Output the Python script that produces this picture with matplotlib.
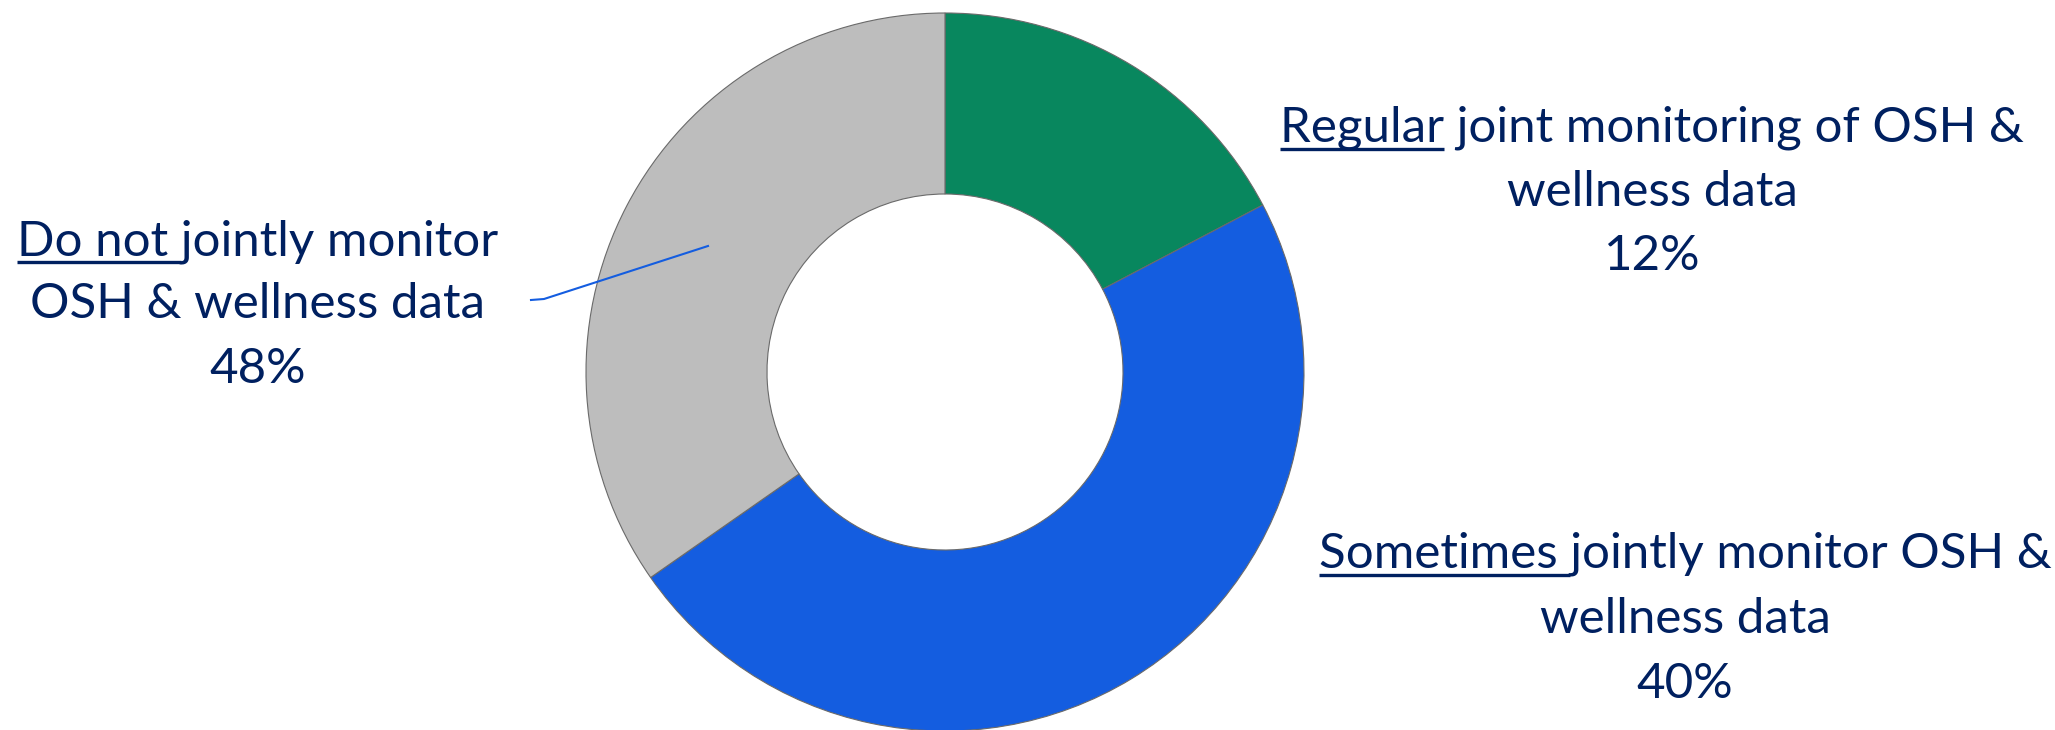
import matplotlib

matplotlib.use('Agg')
import matplotlib.pyplot as plt

# wedge sizes as drawn in the picture (clockwise from 12 o'clock)
segments = ['Regular', 'Sometimes', 'Do not']
wedge_sizes = [17.3, 48.0, 34.7]
colors = ['#08875E', '#145DE0', '#BDBDBD']

# label texts: underlined part, rest of first line, second line, percent
label_first = ['Regular', 'Sometimes ', 'Do not ']
label_rest = [' joint monitoring of OSH &', 'jointly monitor OSH &', 'jointly monitor']
label_second = ['wellness data', 'wellness data', 'OSH & wellness data']
label_pct = ['12%', '40%', '48%']

W, H = 2055, 730
text_color = '#002060'
font = 'Lato'
fsize = 35.5

fig = plt.figure(figsize=(W / 100, H / 100), dpi=100)
ax = fig.add_axes([0, 0, 1, 1])

cx, cy, r = 945, H - 372, 359
wedges, _ = ax.pie(wedge_sizes, colors=colors, startangle=90, counterclock=False,
                   radius=r, center=(cx, cy), frame=True,
                   wedgeprops=dict(width=181, edgecolor='#6a6a6a', linewidth=0.8))
ax.set_xlim(0, W)
ax.set_ylim(0, H)
ax.set_aspect('equal')
ax.axis('off')

# label centre x and baselines (pixels from the top)
label_x = [1652, 1685, 258]
label_y = [[142, 206, 270], [568, 633, 698], [255, 318, 383]]

fig.canvas.draw()
renderer = fig.canvas.get_renderer()

for i in range(3):
    ys = [H - y for y in label_y[i]]
    t = ax.text(label_x[i], ys[0], label_first[i] + label_rest[i].lstrip(' ') if i else
                label_first[i] + label_rest[i], ha='center', va='baseline',
                color=text_color, fontsize=fsize, family=font)
    ax.text(label_x[i], ys[1], label_second[i], ha='center', va='baseline', color=text_color,
            fontsize=fsize, family=font)
    ax.text(label_x[i], ys[2], label_pct[i], ha='center', va='baseline', color=text_color,
            fontsize=fsize, family=font)
    # underline the first word(s)
    bb = t.get_window_extent(renderer)
    probe = ax.text(0, 0, label_first[i].replace(' ', '\u00a0'), fontsize=fsize, family=font)
    pw = probe.get_window_extent(renderer).width
    probe.remove()
    uy = ys[0] - 7
    ax.plot([bb.x0, bb.x0 + pw], [uy, uy], color=text_color, lw=2.4, solid_capstyle='butt')

# leader line for the grey segment
ax.plot([708, 544, 531], [H - 246, H - 299, H - 300], color='#145DE0', lw=1.5)

fig.savefig('out.png', dpi=100)
